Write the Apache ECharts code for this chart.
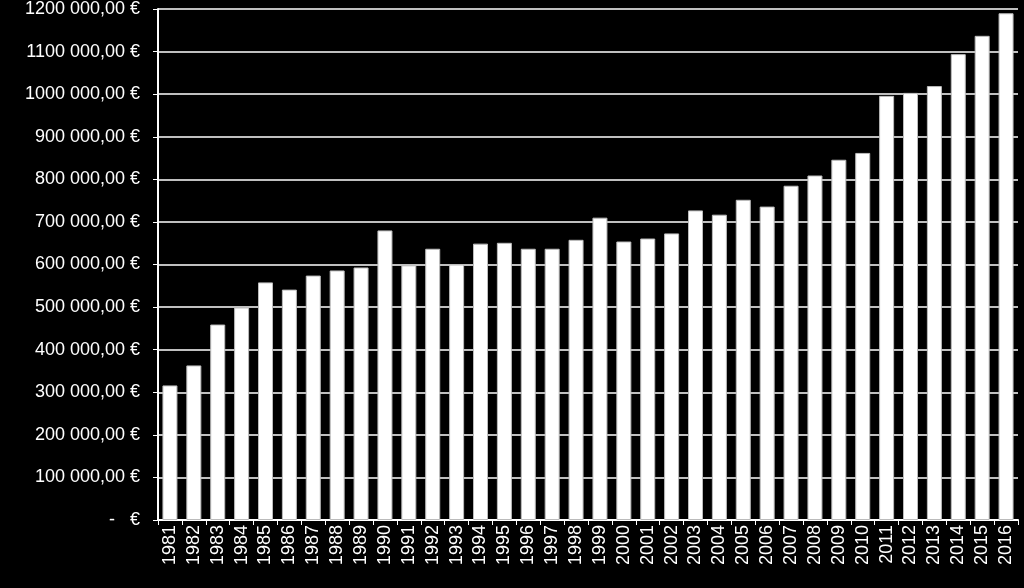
<!DOCTYPE html>
<html><head><meta charset="utf-8">
<script src="https://cdn.jsdelivr.net/npm/echarts@6/dist/echarts.min.js"></script>
<style>html,body{margin:0;background:#000}#c{width:1024px;height:588px}</style>
</head><body><div id="c"></div>
<script>
const years=['1981','1982','1983','1984','1985','1986','1987','1988','1989','1990','1991','1992','1993','1994','1995','1996','1997','1998','1999','2000','2001','2002','2003','2004','2005','2006','2007','2008','2009','2010','2011','2012','2013','2014','2015','2016'];
const values=[316000,363000,459000,499000,558000,541000,574000,586000,593000,680000,598000,637000,600000,649000,651000,637000,637000,658000,710000,654000,661000,673000,727000,717000,752000,736000,785000,809000,846000,862000,996000,1003000,1019000,1094000,1137000,1190000];
const chart=echarts.init(document.getElementById('c'));
chart.setOption({
  backgroundColor:'#000',animation:false,
  grid:{left:158,right:6,top:8,bottom:68},
  xAxis:{type:'category',data:years,
    axisLine:{lineStyle:{color:'#fff',width:2}},axisTick:{show:true,lineStyle:{color:'#fff'}},
    axisLabel:{rotate:90,color:'#fff',fontSize:18,fontFamily:'Liberation Sans, Arial',interval:0,margin:5}},
  yAxis:{type:'value',min:0,max:1200000,interval:100000,
    axisLine:{show:true,lineStyle:{color:'#fff',width:2}},axisTick:{show:true,lineStyle:{color:'#fff'}},
    splitLine:{lineStyle:{color:'#fff',width:1.5}},
    axisLabel:{color:'#fff',fontSize:18,fontFamily:'Liberation Sans, Arial',margin:18,
      formatter:v=>v===0?'-   €':Math.round(v/1000)+' 000,00 €'}},
  series:[{type:'bar',data:values,barWidth:15,
    itemStyle:{color:'#fff',borderColor:'#bbb',borderWidth:1}}]
});
</script></body></html>
